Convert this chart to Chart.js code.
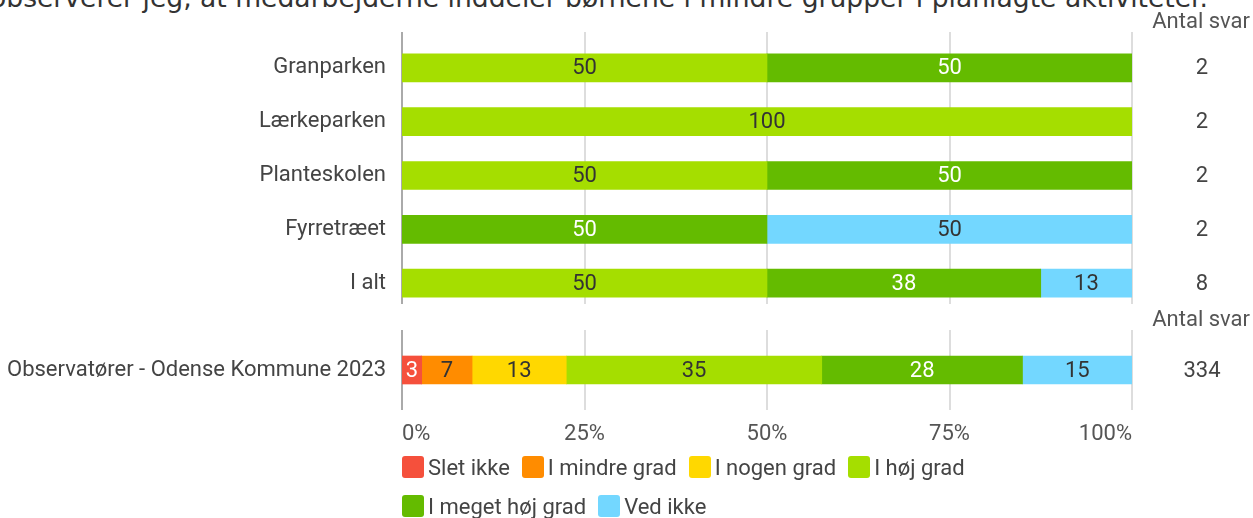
<!DOCTYPE html>
<html>
<head>
<meta charset="utf-8">
<script src="https://cdn.jsdelivr.net/npm/chart.js@4.4.0/dist/chart.umd.min.js"></script>
<style>
  body { margin: 0; background: #fff; }
  #wrap { position: relative; width: 1253px; height: 518px; overflow: hidden; font-family: Roboto, sans-serif; }
  #title { position: absolute; left: -10px; top: -18px; white-space: nowrap; font: 26.6px "DejaVu Sans"; color: #333; }
  #c1 { position: absolute; left: 0; top: 0; }
  #c2 { position: absolute; left: 0; top: 300px; }
  #legend { position: absolute; left: 402px; top: 455px; width: 620px; display: flex; flex-wrap: wrap; row-gap: 15px; }
  .item { display: flex; align-items: center; margin-right: 12px; font-size: 22px; color: #444; height: 24px; }
  .sw { width: 22px; height: 22px; border-radius: 3px; margin-right: 4px; }
</style>
</head>
<body>
<div id="wrap">
  <div id="title">observerer jeg, at medarbejderne inddeler børnene i mindre grupper i planlagte aktiviteter.</div>
  <canvas id="c1" width="1253" height="320"></canvas>
  <canvas id="c2" width="1253" height="160"></canvas>
  <div id="legend"></div>
</div>
<script>
// --- DATA ---
const locations = ['Granparken', 'Lærkeparken', 'Planteskolen', 'Fyrretræet', 'I alt'];
const answers = ['Slet ikke', 'I mindre grad', 'I nogen grad', 'I høj grad', 'I meget høj grad', 'Ved ikke'];

// procent pr. svarkategori, en værdi pr. institution
const sletIkke      = [0, 0, 0, 0, 0];
const mindreGrad    = [0, 0, 0, 0, 0];
const nogenGrad     = [0, 0, 0, 0, 0];
const hoejGrad      = [50, 100, 50, 0, 50];
const megetHoejGrad = [50, 0, 50, 50, 37.5];
const vedIkke       = [0, 0, 0, 50, 12.5];
const antalTop = [2, 2, 2, 2, 8];

const kommuneLabel = ['Observatører - Odense Kommune 2023'];
const kommune = [2.7, 6.9, 12.9, 35.0, 27.5, 15.0]; // samme rækkefølge som answers
const antalBottom = [334];

const xTicks = [0, 25, 50, 75, 100];

// --- STIL ---
const colors = ['#f5503c', '#ff8c00', '#ffd800', '#a5de00', '#64bb00', '#73d7ff'];
const labelColors = ['#fff', '#333', '#333', '#333', '#fff', '#333'];

Chart.defaults.font.family = 'Roboto';
Chart.defaults.font.size = 22;

// 0 tegnes ikke som en tynd streg
const noZero = arr => arr.map(v => v || null);

const decor = {
  id: 'decor',
  beforeDatasetsDraw(chart, args, opts) {
    const { ctx, chartArea: a, scales: { x } } = chart;
    ctx.save();
    xTicks.forEach(t => {
      const px = Math.round(x.getPixelForValue(t));
      ctx.beginPath();
      ctx.strokeStyle = t === 0 ? '#aaaaaa' : '#d2d2d2';
      ctx.lineWidth = t === 0 ? 2 : 1.5;
      ctx.moveTo(px, a.top - opts.up);
      ctx.lineTo(px, a.bottom + opts.down);
      ctx.stroke();
    });
    ctx.restore();
  },
  afterDatasetsDraw(chart, args, opts) {
    const { ctx, chartArea: a, scales: { y } } = chart;
    ctx.save();
    ctx.font = '22px Roboto';
    ctx.textAlign = 'center';
    ctx.textBaseline = 'middle';
    chart.data.datasets.forEach((ds, i) => {
      chart.getDatasetMeta(i).data.forEach((bar, j) => {
        const v = ds.data[j];
        if (!v) return;
        ctx.fillStyle = labelColors[i];
        ctx.fillText(Math.round(v), (bar.x + bar.base) / 2, bar.y + 1);
      });
    });
    // antal svar kolonne
    ctx.fillStyle = '#444';
    opts.counts.forEach((n, j) => {
      ctx.fillText(n, 1202, y.getPixelForValue(j) + 1);
    });
    ctx.fillStyle = '#555';
    ctx.textAlign = 'right';
    ctx.fillText('Antal svar', 1250, a.top + opts.headerDy);
    ctx.restore();
  }
};

const yScale = {
  afterFit: s => { s.width = 402; s.paddingTop = 0; s.paddingBottom = 0; },
  grid: { display: false },
  border: { display: false },
  ticks: { color: '#444', padding: 8, font: { size: 22 } }
};

// top: institutionerne
const topSeries = [sletIkke, mindreGrad, nogenGrad, hoejGrad, megetHoejGrad, vedIkke];
new Chart(document.getElementById('c1'), {
  type: 'bar',
  data: {
    labels: locations,
    datasets: answers.map((name, i) => ({
      label: name, data: noZero(topSeries[i]), backgroundColor: colors[i], barThickness: 28, borderWidth: 0
    }))
  },
  options: {
    indexAxis: 'y',
    responsive: false,
    animation: false,
    layout: { padding: { top: 41, bottom: 10, left: 0, right: 121 } },
    plugins: {
      legend: { display: false },
      tooltip: { enabled: false },
      decor: { up: 9, down: -6, counts: antalTop, headerDy: -19 }
    },
    scales: {
      x: { display: false, stacked: true, min: 0, max: 100 },
      y: { ...yScale, stacked: true }
    }
  },
  plugins: [decor]
});

// bund: kommunen samlet
new Chart(document.getElementById('c2'), {
  type: 'bar',
  data: {
    labels: kommuneLabel,
    datasets: answers.map((name, i) => ({
      label: name, data: noZero([kommune[i]]), backgroundColor: colors[i], barThickness: 28, borderWidth: 0
    }))
  },
  options: {
    indexAxis: 'y',
    responsive: false,
    animation: false,
    layout: { padding: { top: 43, bottom: 0, left: 0, right: 121 } },
    plugins: {
      legend: { display: false },
      tooltip: { enabled: false },
      decor: { up: 13, down: 13, counts: antalBottom, headerDy: -23 }
    },
    scales: {
      x: {
        stacked: true, min: 0, max: 100,
        afterFit: s => { s.height = 63; },
        grid: { display: false },
        border: { display: false },
        ticks: { stepSize: 25, align: 'inner', color: '#555', padding: 16, font: { size: 22 }, callback: v => v + '%' }
      },
      y: { ...yScale, stacked: true }
    }
  },
  plugins: [decor]
});

// forklaring
const legend = document.getElementById('legend');
answers.forEach((name, i) => {
  const it = document.createElement('div');
  it.className = 'item';
  it.innerHTML = `<span class="sw" style="background:${colors[i]}"></span>${name}`;
  legend.appendChild(it);
});
</script>
</body>
</html>
